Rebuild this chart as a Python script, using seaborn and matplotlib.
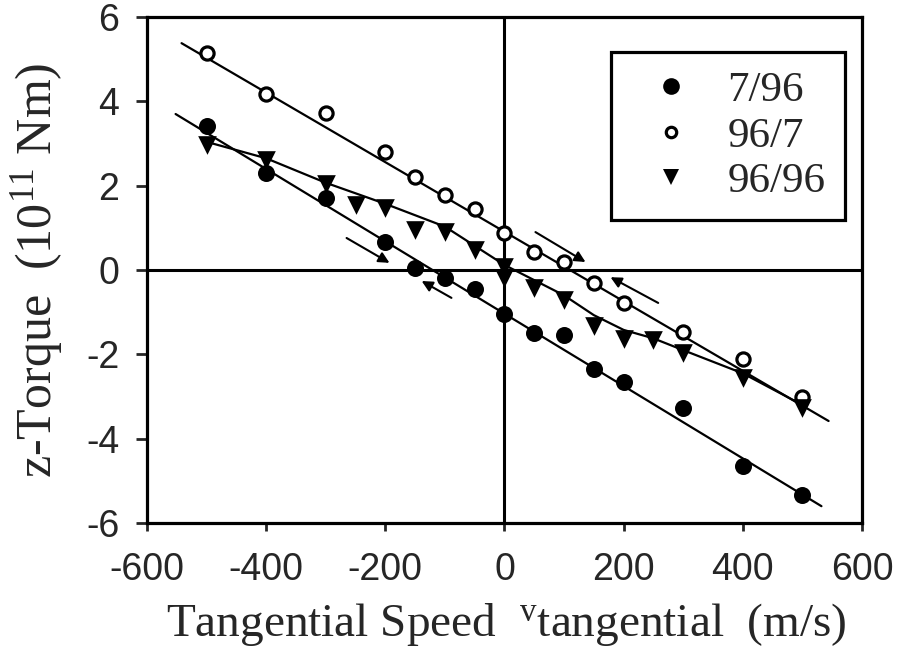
import numpy as np
import pandas as pd
import matplotlib
matplotlib.use("Agg")
import matplotlib.pyplot as plt
from matplotlib.lines import Line2D
import seaborn as sns

# ---------------- data ----------------
speed_796 = [-500, -400, -300, -200, -150, -100, -50, 0, 50, 100, 150, 200, 300, 400, 500]
torque_796 = [3.42, 2.29, 1.71, 0.67, 0.04, -0.20, -0.45, -1.04, -1.50, -1.54, -2.35, -2.65, -3.27, -4.64, -5.33]

speed_967 = [-500, -400, -300, -200, -150, -100, -50, 0, 50, 100, 150, 200, 300, 400, 500]
torque_967 = [5.15, 4.18, 3.72, 2.79, 2.20, 1.78, 1.45, 0.87, 0.43, 0.19, -0.31, -0.77, -1.46, -2.10, -3.00]

speed_9696 = [-500, -400, -300, -250, -200, -150, -100, -50, 0, 0, 50, 100, 150, 200, 250, 300, 400, 500]
torque_9696 = [2.96, 2.60, 2.04, 1.54, 1.47, 0.95, 0.91, 0.47, 0.08, -0.20, -0.43, -0.71, -1.33, -1.64, -1.66, -1.97, -2.56, -3.27]

# fitted lines
fit_x_796 = [-552, 532]
fit_y_796 = [3.70, -5.60]
fit_x_967 = [-542, 544]
fit_y_967 = [5.38, -3.58]
# smooth curve through 96/96
curve_x_9696 = [-500, -400, -300, -200, -100, 0, 50, 100, 150, 200, 250, 300, 400, 500]
curve_y_9696 = [3.04, 2.65, 2.07, 1.57, 1.03, 0.12, -0.24, -0.60, -1.07, -1.42, -1.62, -1.90, -2.45, -3.20]

# direction arrows (tail x, tail y, head x, head y)
arrow_tail_x = [-265, -89, 52, 258]
arrow_tail_y = [0.76, -0.66, 0.90, -0.78]
arrow_head_x = [-193, -139, 136, 178]
arrow_head_y = [0.17, -0.26, 0.19, -0.17]

series_labels = ["7/96", "96/7", "96/96"]
x_ticks = [-600, -400, -200, 0, 200, 400, 600]
y_ticks = [-6, -4, -2, 0, 2, 4, 6]

# ---------------- style ----------------
sns.set_style("ticks")
plt.rcParams["font.family"] = ["Liberation Serif", "DejaVu Serif"]
plt.rcParams["mathtext.fontset"] = "custom"
plt.rcParams["mathtext.rm"] = "Liberation Serif"

fig = plt.figure(figsize=(9.04, 6.68), dpi=100)
ax = fig.add_axes([0.1626, 0.217, 0.7909, 0.7575])

df796 = pd.DataFrame({"x": speed_796, "y": torque_796})
df967 = pd.DataFrame({"x": speed_967, "y": torque_967})
df9696 = pd.DataFrame({"x": speed_9696, "y": torque_9696})

line_kw = dict(color="black", lw=1.6, zorder=2)
sns.lineplot(x=fit_x_796, y=fit_y_796, ax=ax, sort=False, **line_kw)
sns.lineplot(x=fit_x_967, y=fit_y_967, ax=ax, sort=False, **line_kw)
sns.lineplot(x=curve_x_9696, y=curve_y_9696, ax=ax, sort=False, **line_kw)

sns.scatterplot(data=df796, x="x", y="y", ax=ax, marker="o", s=150,
                color="black", edgecolor="black", linewidth=0, zorder=4)
sns.scatterplot(data=df967, x="x", y="y", ax=ax, marker="o", s=90,
                facecolor="white", edgecolor="black", linewidth=2.3, zorder=4)
sns.scatterplot(data=df9696, x="x", y="y", ax=ax, marker="v", s=180,
                color="black", edgecolor="black", linewidth=0, zorder=4)

# zero lines
ax.axhline(0, color="black", lw=2.2, zorder=1)
ax.axvline(0, color="black", lw=2.2, zorder=1)

for tx, ty, hx, hy in zip(arrow_tail_x, arrow_tail_y, arrow_head_x, arrow_head_y):
    ax.annotate("", xy=(hx, hy), xytext=(tx, ty),
                arrowprops=dict(arrowstyle="-|>", color="black", lw=1.5,
                                mutation_scale=16, shrinkA=0, shrinkB=0),
                zorder=3)

ax.set_xlim(-600, 600)
ax.set_ylim(-6, 6)
ax.set_xticks(x_ticks)
ax.set_yticks(y_ticks)
tick_font = ["Liberation Sans", "DejaVu Sans"]
ax.set_xticklabels([str(v) for v in x_ticks], family=tick_font, fontsize=27)
ax.set_yticklabels([str(v) for v in y_ticks], family=tick_font, fontsize=27)
ax.tick_params(axis="x", direction="out", length=6, width=2, pad=15)
ax.tick_params(axis="y", direction="out", length=8, width=2, pad=12)

for sp in ax.spines.values():
    sp.set_visible(True)
    sp.set_linewidth(2.3)
    sp.set_color("black")

ax.set_xlabel(r"Tangential Speed  $\mathregular{{}^{v}tangential}$  (m/s)", fontsize=34)
ax.set_ylabel(r"z-Torque  (10$\mathregular{^{11}}$ Nm)", fontsize=36)
ax.xaxis.set_label_coords(0.503, -0.155)
ax.yaxis.set_label_coords(-0.115, 0.5)

handles = [
    Line2D([], [], ls="none", marker="o", ms=12, mfc="black", mec="black", mew=0),
    Line2D([], [], ls="none", marker="o", ms=7.5, mfc="white", mec="black", mew=2.3),
    Line2D([], [], ls="none", marker="v", ms=12, mfc="black", mec="black", mew=0),
]
leg = ax.legend(handles, series_labels, loc="upper right", bbox_to_anchor=(0.976, 0.931),
                bbox_transform=ax.transAxes, borderaxespad=0, fontsize=31,
                frameon=True, fancybox=False, framealpha=1, edgecolor="black",
                borderpad=0.45, labelspacing=0.14, handlelength=1.9, handletextpad=0.35)
leg.get_frame().set_linewidth(2.3)

fig.savefig("out.png", dpi=100)
